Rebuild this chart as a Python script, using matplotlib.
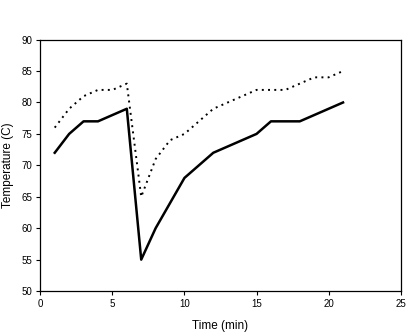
import matplotlib
matplotlib.use('Agg')
from matplotlib import pyplot as plt

plt.rcParams['font.family'] = ['Liberation Sans', 'DejaVu Sans']

time = [1, 2, 3, 4, 5, 6, 7, 8, 9, 10, 11, 12, 13, 14, 15, 16, 17, 18, 19, 20, 21]
temp_dotted = [76, 79, 81, 82, 82, 83, 65, 71, 74, 75, 77, 79, 80, 81, 82, 82, 82, 83, 84, 84, 85]
time_solid = [1, 2, 3, 4, 6, 7, 8, 10, 12, 15, 16, 18, 21]
temp_solid = [72, 75, 77, 77, 79, 55, 60, 68, 72, 75, 77, 77, 80]

fig = plt.figure(figsize=(4.2, 3.33), dpi=100)
ax = fig.add_axes([0.096, 0.126, 0.858, 0.755])
ax.plot(time_solid, temp_solid, color='black', lw=1.8)
ax.plot(time, temp_dotted, color='black', lw=1.4, linestyle=(0, (1, 2.2)))

ax.set_xlim(0, 25)
ax.set_ylim(50, 90)
ax.set_xticks([0, 5, 10, 15, 20, 25])
ax.set_yticks([50, 55, 60, 65, 70, 75, 80, 85, 90])
ax.tick_params(labelsize=7, length=3, width=0.8, direction='out', pad=3)
for s in ax.spines.values():
    s.set_linewidth(0.9)
ax.set_xlabel('Time (min)', fontsize=8.5, labelpad=8)
ax.set_ylabel('Temperature (C)', fontsize=8.5, labelpad=5)

fig.savefig('out.png', dpi=100)
